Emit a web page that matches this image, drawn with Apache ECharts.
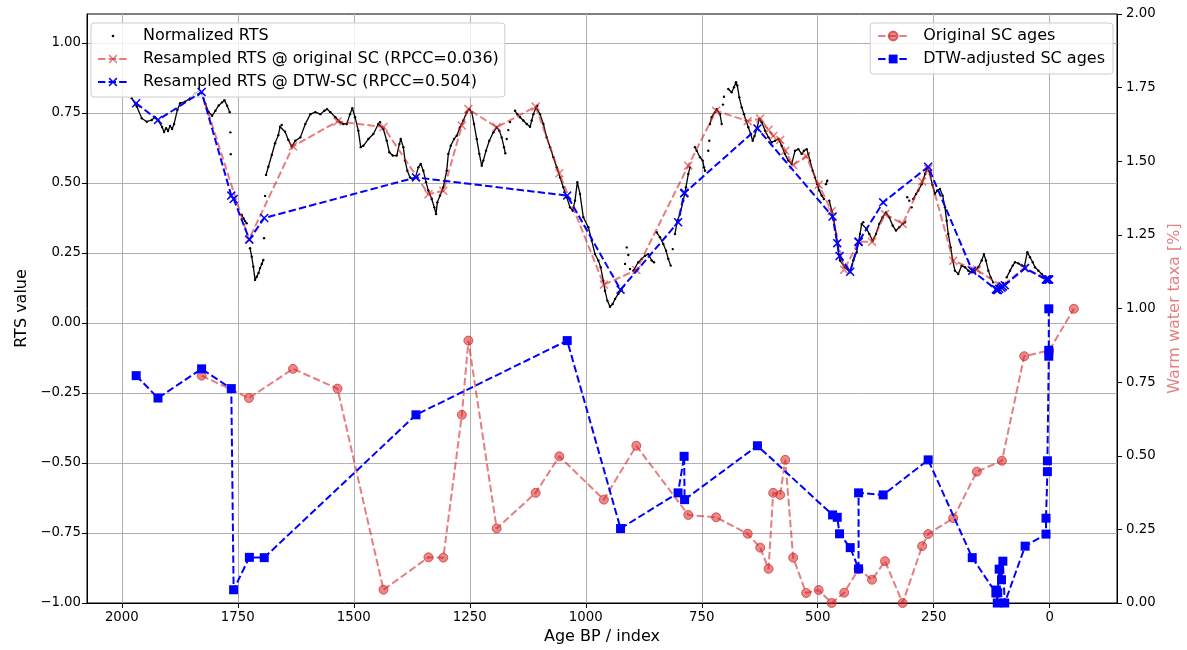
<!DOCTYPE html>
<html>
<head>
<meta charset="utf-8">
<title>RTS vs SC ages</title>
<script src="https://cdn.jsdelivr.net/npm/echarts@6/dist/echarts.min.js"></script>
<style>
  html, body { margin: 0; padding: 0; background: #fff; }
  #chart { width: 1187px; height: 650px; }
</style>
</head>
<body>
<div id="chart"></div>
<script>
// ---- Normalized RTS record (age BP, value); null marks a gap in the record ----
const rtsAge = [
  1978.5, 1967.7, 1957.0, 1946.2, 1935.4, 1928.3, 1920.7, 1913.2, 1908.9, 1904.6, 1900.3, 1896.0, 1891.6, 1887.3,
  1880.2, 1874.4, 1863.6, 1852.9, 1842.1, 1831.3, 1819.9, 1812.6, 1805.4, 1798.3, 1791.0, 1783.9, 1778.9, 1773.1, 1767.3,
  null, 1766.0, null, 1765.1, null,
  1741.4, 1737.6, 1734.3, 1730.7, null,
  1723.6, 1720.0, 1716.5, 1712.8, 1709.1, 1705.2, 1702.0, 1698.3, 1694.9, null,
  1693.4, null, 1691.2, null,
  1689.1, 1684.1, 1676.8, 1669.7, 1662.6, 1658.9, 1655.3, 1648.1, 1641.0, 1633.7, 1625.9, 1615.2, 1604.4, 1593.6,
  1582.8, 1572.0, 1563.4, 1557.6, 1550.5, 1539.7, 1529.0, 1522.5, 1515.2, 1508.1, 1503.1, 1497.3, 1490.2, 1485.0,
  1479.4, 1468.6, 1457.8, 1447.1, 1443.4, 1436.3, 1429.0, 1423.4, 1416.0, 1407.4, 1401.8, 1398.8, 1393.2, 1389.5,
  1384.6, 1378.8, 1373.0, 1366.9, 1360.9, 1355.7, 1350.1, 1344.3, 1339.3, 1332.0, 1326.4, 1322.7, 1319.9, 1314.1,
  1307.0, 1299.7, 1296.2, 1291.0, 1283.9, 1278.1, 1271.0, 1263.9, 1256.6, 1251.0, 1245.8, 1240.8, 1235.0, 1229.4,
  1224.2, 1220.8, 1215.0, 1207.9, 1199.2, 1191.9, 1186.3, 1181.2, 1176.2, 1173.4, null,
  1170.4, null, 1166.9, null, 1163.2, null,
  1152.5, 1147.5, 1141.7, 1134.6, 1127.2, 1120.1, 1116.5, 1112.9, 1107.2, 1104.4, 1098.6, 1091.4, 1084.2, 1077.0,
  1069.9, 1062.6, 1055.5, 1048.4, 1041.0, 1033.9, 1028.1, 1023.2, 1018.2, 1012.4, 1005.3, 994.5, 987.2, 980.1,
  972.9, 967.8, 962.2, 958.5, 953.5, 947.8, 942.0, 936.9, 929.9, 922.5, null,
  915.4, null, 911.7, null, 908.3, null, 904.6, null,
  897.5, 894.0, 886.8, 879.4, 872.3, 865.2, 857.9, 852.9, null,
  847.1, 840.0, 832.9, 827.0, 822.1, 816.9, null, 812.6, null,
  807.7, 802.7, 796.9, 789.8, 784.0, 779.0, 775.4, null,
  764.6, 760.9, 753.8, 748.0, 745.2, 743.0, null,
  735.9, null, 733.8, null,
  732.3, 728.6, 721.5, 717.9, 710.7, 707.0, null,
  704.3, null, 702.1, null,
  692.8, 685.5, 680.5, 676.2, 673.4, 669.1, 663.9, 658.9, 654.6, 649.6, 644.5, 640.2, 636.3, 631.6, 625.9, 620.8,
  613.4, 606.3, 599.2, 592.1, 584.8, 577.8, 570.7, 563.5, 556.1, 549.0, 541.9, 534.6, 529.7, 523.8, 520.4, 516.7,
  510.9, 506.0, 501.0, 496.7, 491.5, 486.6, null,
  482.3, 479.4, null,
  475.1, 469.9, 465.0, 460.7, 457.7, 454.9, 452.1, 441.1, 430.5, 423.4, 416.1, 408.9, 405.3, 401.9, 394.6, 388.9,
  381.6, 374.5, 367.4, 360.1, 353.0, 345.9, 338.5, 331.4, 324.3, 317.0, 312.0, null,
  307.1, null, 302.7, null, 297.6, null,
  294.1, 288.1, 283.3, 275.9, 268.7, 263.9, 258.1, 252.8, 247.4, 242.4, 236.6, 230.8, 225.8, 222.1, 218.7, 213.5,
  209.0, 204.3, 197.1, 189.8, 182.5, 175.5, 168.3, 161.2, 154.0, 146.7, 141.8, 137.5, 132.3, 127.3, 121.8, null,
  113.6, null, 100.7, null,
  92.7, 85.5, 79.7, 74.8, 67.7, 60.3, 54.3, 48.3, 42.5, 36.6, 31.7, 24.6, 17.2, 10.1, 5.2
];
const rtsValue = [
  0.803, 0.773, 0.731, 0.719, 0.725, 0.735, 0.721, 0.700, 0.682, 0.696, 0.686, 0.704, 0.693, 0.711,
  0.761, 0.785, 0.790, 0.803, 0.820, 0.832, 0.782, 0.753, 0.740, 0.758, 0.777, 0.788, 0.796, 0.776, 0.753,
  null, 0.681, null, 0.603, null,
  0.386, 0.373, 0.364, 0.356, null,
  0.267, 0.237, 0.201, 0.154, 0.165, 0.179, 0.196, 0.211, 0.225, null,
  0.303, null, 0.454, null,
  0.529, 0.558, 0.600, 0.642, 0.671, 0.701, 0.707, 0.683, 0.654, 0.630, 0.651, 0.663, 0.711, 0.746,
  0.753, 0.746, 0.758, 0.764, 0.753, 0.735, 0.717, 0.711, 0.711, 0.746, 0.767, 0.735, 0.687, 0.628,
  0.633, 0.657, 0.675, 0.711, 0.717, 0.693, 0.651, 0.610, 0.598, 0.598, 0.639, 0.657, 0.628, 0.580,
  0.544, 0.520, 0.514, 0.521, 0.556, 0.568, 0.544, 0.503, 0.473, 0.443, 0.413, 0.389, 0.431, 0.455,
  0.485, 0.544, 0.604, 0.633, 0.657, 0.669, 0.699, 0.723, 0.753, 0.764, 0.753, 0.711, 0.657, 0.604,
  0.562, 0.580, 0.615, 0.651, 0.681, 0.699, 0.687, 0.663, 0.628, 0.606, null,
  0.657, null, 0.689, null, 0.718, null,
  0.758, 0.746, 0.735, 0.723, 0.711, 0.701, 0.723, 0.746, 0.770, 0.776, 0.746, 0.711, 0.663, 0.628,
  0.592, 0.556, 0.520, 0.485, 0.449, 0.413, 0.401, 0.437, 0.503, 0.461, 0.378, 0.342, 0.294, 0.246,
  0.223, 0.199, 0.151, 0.115, 0.080, 0.058, 0.068, 0.086, 0.104, 0.118, null,
  0.211, null, 0.270, null, 0.243, null, 0.193, null,
  0.187, 0.189, 0.217, 0.229, 0.240, 0.246, 0.223, 0.217, null,
  0.324, 0.306, 0.282, 0.258, 0.229, 0.205, null, 0.264, null,
  0.318, 0.365, 0.389, 0.437, 0.485, 0.532, 0.556, null,
  0.628, 0.615, 0.592, 0.580, 0.556, 0.544, null,
  0.615, null, 0.651, null,
  0.711, 0.735, 0.753, 0.764, 0.746, 0.711, null,
  0.780, null, 0.808, null,
  0.836, 0.824, 0.842, 0.860, 0.848, 0.806, 0.770, 0.746, 0.723, 0.699, 0.675, 0.651, 0.668, 0.693, 0.729, 0.717,
  0.687, 0.663, 0.645, 0.651, 0.657, 0.633, 0.604, 0.580, 0.568, 0.615, 0.621, 0.604, 0.615, 0.621, 0.604, 0.580,
  0.544, 0.520, 0.496, 0.473, 0.455, 0.443, null,
  0.496, 0.508, null,
  0.437, 0.401, 0.365, 0.318, 0.282, 0.246, 0.223, 0.199, 0.181, 0.223, 0.253, 0.318, 0.354, 0.360, 0.336, 0.318,
  0.294, 0.318, 0.354, 0.378, 0.395, 0.378, 0.348, 0.330, 0.342, 0.354, 0.360, null,
  0.449, null, 0.437, null, 0.413, null,
  0.443, 0.461, 0.473, 0.496, 0.532, 0.556, 0.532, 0.493, 0.461, 0.473, 0.479, 0.455, 0.413, 0.365, 0.318, 0.270,
  0.223, 0.187, 0.175, 0.205, 0.199, 0.187, 0.181, 0.187, 0.199, 0.223, 0.246, 0.223, 0.187, 0.163, 0.145, null,
  0.132, null, 0.143, null,
  0.163, 0.187, 0.205, 0.217, 0.213, 0.205, 0.204, 0.253, 0.235, 0.217, 0.199, 0.187, 0.175, 0.163, 0.155
];

// ---- Sediment-core samples: original ages and DTW-adjusted ages ----
const scAgeOriginal = [1828, 1726, 1631, 1535, 1436, 1339, 1307, 1267, 1253, 1192, 1108, 1057, 961, 891, 779, 719,
  651, 624, 606, 596, 581, 570, 553, 525, 498, 470, 443, 412, 383, 355, 317, 275, 262, 208, 157, 103, 55, 1, -52];
const scAgeDTW = [1969, 1922, 1828, 1764, 1759, 1725, 1693, 1366, 1040, 925, 801, 788, 787, 630, 468, 458,
  453, 430, 412, 412, 359, 262, 167, 116, 115, 113, 112, 109, 104, 101, 97, 53, 8, 8, 5, 5, 2, 2, 2];
// Warm water taxa share of each sample (right axis)
const warmWater = [0.772, 0.696, 0.795, 0.728, 0.045, 0.155, 0.154, 0.639, 0.891, 0.253, 0.374, 0.498, 0.351, 0.534,
  0.299, 0.291, 0.235, 0.188, 0.116, 0.374, 0.367, 0.486, 0.154, 0.034, 0.044, 0.000, 0.035, 0.115, 0.079, 0.142,
  0.000, 0.193, 0.234, 0.288, 0.446, 0.483, 0.838, 0.858, 0.999];

// ---- RTS resampled at the sample ages (the youngest original age lies outside the record) ----
const rtsAtOriginal = [0.825, 0.298, 0.631, 0.720, 0.700, 0.460, 0.472, 0.705, 0.764, 0.699, 0.773, 0.535, 0.137,
  0.189, 0.562, 0.758, 0.721, 0.730, 0.690, 0.668, 0.654, 0.615, 0.564, 0.596, 0.494, 0.399, 0.190, 0.290, 0.290,
  0.389, 0.354, 0.505, 0.550, 0.222, 0.190, 0.132, 0.196, 0.155];
const rtsAtDTW = [0.785, 0.725, 0.825, 0.455, 0.443, 0.298, 0.375, 0.520, 0.455, 0.119, 0.360, 0.463, 0.465, 0.695,
  0.380, 0.285, 0.239, 0.183, 0.290, 0.290, 0.431, 0.558, 0.187, 0.120, 0.120, 0.118, 0.118, 0.122, 0.126, 0.130,
  0.135, 0.196, 0.155, 0.155, 0.155, 0.155, 0.155, 0.155, 0.155];

// ---- Axis ticks ----
const xTicks = [0, 250, 500, 750, 1000, 1250, 1500, 1750, 2000];
const yLeftTicks = [-1.0, -0.75, -0.5, -0.25, 0.0, 0.25, 0.5, 0.75, 1.0];

// ---- Names ----
const nameRts = 'Normalized RTS';
const nameResOrig = 'Resampled RTS @ original SC (RPCC=0.036)';
const nameResDtw = 'Resampled RTS @ DTW-SC (RPCC=0.504)';
const nameOrig = 'Original SC ages';
const nameDtw = 'DTW-adjusted SC ages';

const FONT = "'DejaVu Sans', 'Liberation Sans', sans-serif";
const RED = 'rgba(214,39,40,0.6)';
const BLUE = '#0000ff';
const DASH = [7.4, 3.2];
const X_MARK = 'path://M0,1.2L1.2,0L5,3.8L8.8,0L10,1.2L6.2,5L10,8.8L8.8,10L5,6.2L1.2,10L0,8.8L3.8,5Z';
const DOT_ICON = 'path://M0,0M30,11M15,5.5m-1.3,0a1.3,1.3 0 1,0 2.6,0a1.3,1.3 0 1,0 -2.6,0z';

const pairs = (xs, ys) => ys.map((y, i) => [xs[i], y]);
const rtsData = rtsAge.map((a, i) => (a === null || rtsValue[i] === null) ? ['-', '-'] : [a, rtsValue[i]]);
const fmt = v => v.toFixed(2).replace('-', '\u2212');

const chart = echarts.init(document.getElementById('chart'), null, { renderer: 'canvas' });

const legendBase = {
  orient: 'vertical',
  itemWidth: 30,
  itemHeight: 11,
  itemGap: 5,
  backgroundColor: 'rgba(255,255,255,0.8)',
  borderColor: '#cccccc',
  borderWidth: 1,
  borderRadius: 3,
  selectedMode: false,
  textStyle: { fontFamily: FONT, fontSize: 16, color: '#000', lineHeight: 18, padding: [0, 0, 0, 10] }
};

chart.setOption({
  animation: false,
  backgroundColor: '#ffffff',
  textStyle: { fontFamily: FONT },
  grid: {
    left: 87, right: 70, top: 14, bottom: 47,
    outerBoundsMode: 'none', containLabel: false,
    show: true, borderColor: '#000', borderWidth: 1
  },
  legend: [
    Object.assign({}, legendBase, {
      left: 91, top: 23, padding: [4, 6, 6, 6],
      data: [{ name: nameRts, icon: DOT_ICON }, nameResOrig, nameResDtw]
    }),
    Object.assign({}, legendBase, {
      right: 74, top: 23, padding: [4, 8, 6, 7],
      data: [nameOrig, nameDtw]
    })
  ],
  xAxis: {
    type: 'value', inverse: true, min: -145, max: 2075,
    name: 'Age BP / index', nameLocation: 'middle', nameGap: 26,
    nameTextStyle: { fontFamily: FONT, fontSize: 16, color: '#000' },
    axisLine: { show: true, onZero: false, lineStyle: { color: '#000', width: 1 } },
    axisTick: { show: true, length: 5, customValues: xTicks, lineStyle: { color: '#000', width: 1 } },
    axisLabel: { customValues: xTicks, fontFamily: FONT, fontSize: 13.3, color: '#000', margin: 8, formatter: v => String(v) },
    splitLine: { show: true, lineStyle: { color: '#b0b0b0', width: 1 } }
  },
  yAxis: [
    {
      type: 'value', position: 'left', min: -1, max: 1.1036,
      name: 'RTS value', nameLocation: 'middle', nameGap: 55, nameRotate: 90,
      nameTextStyle: { fontFamily: FONT, fontSize: 16, color: '#000' },
      axisLine: { show: true, onZero: false, lineStyle: { color: '#000', width: 1 } },
      axisTick: { show: true, length: 5, customValues: yLeftTicks, lineStyle: { color: '#000', width: 1 } },
      axisLabel: { customValues: yLeftTicks, fontFamily: FONT, fontSize: 13.3, color: '#000', margin: 6, formatter: fmt },
      splitLine: { show: true, lineStyle: { color: '#b0b0b0', width: 1 } }
    },
    {
      type: 'value', position: 'right', min: 0, max: 2, interval: 0.25,
      name: 'Warm water taxa [%]', nameLocation: 'middle', nameGap: 49, nameRotate: 90,
      nameTextStyle: { fontFamily: FONT, fontSize: 16, color: RED },
      axisLine: { show: true, onZero: false, lineStyle: { color: '#000', width: 1 } },
      axisTick: { show: true, length: 5, lineStyle: { color: '#000', width: 1 } },
      axisLabel: { fontFamily: FONT, fontSize: 13.3, color: '#000', margin: 9, formatter: fmt },
      splitLine: { show: false }
    }
  ],
  series: [
    {
      name: nameRts, type: 'line', data: rtsData, yAxisIndex: 0,
      symbol: 'circle', symbolSize: 2.4, showSymbol: true, symbolKeepAspect: true,
      connectNulls: false,
      itemStyle: { color: '#000' },
      lineStyle: { color: '#000', width: 1.3 },
      emphasis: { disabled: true }, z: 2
    },
    {
      name: nameResOrig, type: 'line', data: pairs(scAgeOriginal, rtsAtOriginal), yAxisIndex: 0,
      symbol: X_MARK, symbolSize: 9,
      itemStyle: { color: RED },
      lineStyle: { color: RED, width: 2, type: DASH },
      emphasis: { disabled: true }, z: 3
    },
    {
      name: nameResDtw, type: 'line', data: pairs(scAgeDTW, rtsAtDTW), yAxisIndex: 0,
      symbol: X_MARK, symbolSize: 9,
      itemStyle: { color: BLUE },
      lineStyle: { color: BLUE, width: 2, type: DASH },
      emphasis: { disabled: true }, z: 4
    },
    {
      name: nameOrig, type: 'line', data: pairs(scAgeOriginal, warmWater), yAxisIndex: 1,
      symbol: 'circle', symbolSize: 9,
      itemStyle: { color: 'rgba(214,39,40,0.55)', borderColor: 'rgba(214,39,40,0.7)', borderWidth: 1 },
      lineStyle: { color: RED, width: 2, type: DASH },
      emphasis: { disabled: true }, z: 5
    },
    {
      name: nameDtw, type: 'line', data: pairs(scAgeDTW, warmWater), yAxisIndex: 1,
      symbol: 'rect', symbolSize: 9,
      itemStyle: { color: BLUE },
      lineStyle: { color: BLUE, width: 2, type: DASH },
      emphasis: { disabled: true }, z: 6
    }
  ]
});
</script>
</body>
</html>
